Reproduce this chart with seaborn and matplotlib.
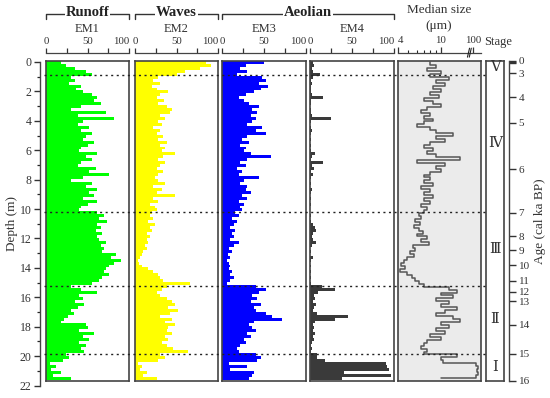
import numpy as np
import pandas as pd
import matplotlib
matplotlib.use("Agg")
import matplotlib.pyplot as plt
import matplotlib.transforms as mtransforms
from matplotlib.lines import Line2D
import seaborn as sns

# sample depths (m)
DEPTH = [0.1, 0.3, 0.5, 0.7, 0.9, 1.1, 1.3, 1.5, 1.7, 1.9,
         2.1, 2.3, 2.5, 2.7, 2.9, 3.1, 3.3, 3.5, 3.7, 3.9,
         4.1, 4.3, 4.5, 4.7, 4.9, 5.1, 5.3, 5.5, 5.7, 5.9,
         6.1, 6.3, 6.5, 6.7, 6.9, 7.1, 7.3, 7.5, 7.7, 7.9,
         8.1, 8.3, 8.5, 8.7, 8.9, 9.1, 9.3, 9.5, 9.7, 9.9,
         10.1, 10.3, 10.5, 10.7, 10.9, 11.1, 11.3, 11.5, 11.7, 11.9,
         12.1, 12.3, 12.5, 12.7, 12.9, 13.1, 13.3, 13.5, 13.7, 13.9,
         14.1, 14.3, 14.5, 14.7, 14.9, 15.1, 15.3, 15.5, 15.7, 15.9,
         16.1, 16.3, 16.5, 16.7, 16.9, 17.1, 17.3, 17.5, 17.7, 17.9,
         18.1, 18.3, 18.5, 18.7, 18.9, 19.1, 19.3, 19.5, 19.7, 19.9,
         20.1, 20.3, 20.5, 20.7, 20.9, 21.1, 21.3, 21.5]

# end-member contributions (%)
EM1 = [18, 24, 35, 48, 55, 30, 35, 28, 42, 36,
       45, 55, 62, 58, 66, 42, 30, 72, 38, 82,
       45, 38, 52, 42, 55, 48, 44, 58, 50, 42,
       40, 62, 48, 55, 42, 38, 60, 52, 76, 45,
       30, 55, 48, 62, 52, 58, 45, 62, 50, 42,
       40, 62, 70, 64, 74, 62, 66, 60, 68, 62,
       64, 72, 66, 70, 68, 84, 78, 90, 82, 76,
       72, 70, 76, 68, 64, 55, 30, 42, 62, 40,
       44, 35, 46, 38, 30, 34, 26, 22, 18, 48,
       50, 40, 58, 45, 52, 40, 48, 42, 46, 24,
       28, 20, 5, 12, 6, 18, 8, 30]

EM2 = [85, 92, 78, 60, 50, 28, 22, 30, 20, 26,
       40, 30, 26, 35, 28, 38, 44, 42, 30, 36,
       28, 32, 22, 30, 26, 34, 28, 38, 30, 36,
       32, 48, 34, 28, 36, 30, 26, 34, 28, 24,
       28, 36, 22, 32, 26, 48, 22, 28, 18, 24,
       26, 20, 18, 22, 16, 24, 18, 20, 14, 18,
       14, 16, 12, 15, 10, 8, 6, 4, 5, 8,
       16, 22, 28, 30, 34, 66, 38, 32, 26, 30,
       38, 44, 48, 40, 52, 42, 30, 44, 36, 48,
       40, 38, 44, 36, 40, 32, 38, 46, 64, 30,
       36, 28, 4, 8, 6, 14, 10, 26]

EM3 = [50, 28, 22, 30, 18, 48, 52, 44, 55, 46,
       38, 28, 20, 26, 32, 44, 36, 42, 34, 40,
       36, 30, 48, 40, 52, 30, 24, 32, 22, 28,
       26, 34, 58, 30, 22, 28, 18, 24, 20, 44,
       26, 22, 30, 28, 34, 24, 30, 20, 26, 22,
       24, 16, 20, 12, 18, 14, 10, 16, 12, 14,
       10, 20, 14, 8, 12, 7, 10, 6, 8, 10,
       8, 12, 10, 14, 10, 6, 40, 52, 44, 36,
       42, 34, 46, 38, 40, 52, 60, 72, 38, 32,
       36, 40, 30, 34, 26, 28, 22, 18, 20, 40,
       46, 42, 8, 30, 10, 38, 36, 32]

EM4 = [3, 5, 2, 4, 12, 3, 1, 2, 1, 1,
       1, 2, 16, 1, 1, 0, 1, 1, 2, 25,
       1, 0, 1, 2, 1, 0, 1, 0, 1, 0,
       1, 6, 2, 1, 15, 2, 5, 1, 4, 1,
       0, 1, 0, 2, 1, 0, 1, 0, 1, 0,
       0, 0, 1, 0, 1, 4, 6, 7, 4, 2,
       3, 7, 2, 0, 1, 0, 4, 1, 0, 1,
       0, 1, 0, 1, 0, 1, 14, 30, 10, 5,
       6, 4, 7, 5, 4, 8, 45, 30, 6, 4,
       5, 3, 6, 4, 5, 2, 1, 2, 1, 8,
       8, 18, 90, 92, 94, 40, 96, 38]

# median grain size (um)
MEDIAN = [8, 9, 7.5, 10, 8, 12, 9, 11, 8.5, 10,
          8, 9.5, 7, 8.5, 10, 7.5, 6.5, 8, 7, 8.5,
          7, 6, 8, 9, 13, 9, 11, 8, 7, 8.5,
          7.5, 9, 15, 6, 11, 9, 10, 8, 7, 8,
          7, 8.5, 6.5, 8, 7, 8.5, 7, 8, 6.5, 7.5,
          7, 6.2, 6.5, 5.8, 6.4, 5.6, 6.2, 6.8, 6, 7.5,
          6.5, 7.8, 5.5, 5.8, 5.2, 5.6, 4.8, 4.5, 4.3, 4.6,
          4.2, 4.8, 5.4, 5.8, 6.2, 7, 12, 14, 10, 13,
          9, 12, 10, 14, 11, 9, 13, 15, 10, 12,
          9, 11, 8, 10, 7.5, 7, 6.5, 7.5, 7, 14,
          10, 10.5, 21, 22, 21.5, 22, 21, 10]

STAGE_BOUNDS = [0.93, 10.27, 15.26, 19.84]
STAGE_NAMES = ['Ⅴ', 'Ⅳ', 'Ⅲ', 'Ⅱ', 'Ⅰ']
CORE_BOTTOM = 21.7

AGE_DEPTHS = [0, 0.07, 0.14, 0.82, 2.45, 4.2, 7.35, 10.3, 11.9, 12.85,
              13.85, 14.9, 15.65, 16.3, 17.9, 19.85, 21.7]
AGE_LABELS = ['0', '', '', '3', '4', '5', '6', '7', '8', '9',
              '10', '11', '12', '13', '14', '15', '16']

df = pd.DataFrame({'depth': DEPTH, 'EM1': EM1, 'EM2': EM2,
                   'EM3': EM3, 'EM4': EM4, 'median': MEDIAN})

sns.set_style("ticks")
plt.rcParams['font.family'] = ['Liberation Serif', 'DejaVu Serif']
plt.rcParams['axes.edgecolor'] = '#444444'

W, H = 550, 398
fig = plt.figure(figsize=(5.5, 3.98), dpi=100)
TOP, BOT = 61, 381
TXT = '#333333'


def px_axes(x0, x1, y0=TOP, y1=BOT):
    return fig.add_axes([x0 / W, 1 - y1 / H, (x1 - x0) / W, (y1 - y0) / H])


def frame(ax):
    ax.set(xlabel='', ylabel='')
    ax.set_yticks([])
    ax.tick_params(axis='x', bottom=False, labelbottom=False)
    for s in ax.spines.values():
        s.set_visible(True)
        s.set_linewidth(1.2)
        s.set_color('#444444')


def align_edge_labels(sec, first=None, last=None):
    ticks = sec.xaxis.get_major_ticks()
    for tk in ticks:
        tk.label2.set_horizontalalignment('center')
    if first:
        ticks[0].label2.set_horizontalalignment(first)
    if last:
        ticks[-1].label2.set_horizontalalignment(last)


# end-member panels
panels = [('EM1', 46, 129, '#00ff00'), ('EM2', 135, 218, '#ffff00'),
          ('EM3', 222, 306, '#0000ff'), ('EM4', 310, 394, '#3a3a3a')]
axes = []
secs = []
for name, x0, x1, col in panels:
    ax = px_axes(x0, x1)
    sns.barplot(data=df, x=name, y='depth', orient='y', native_scale=True,
                color=col, saturation=1, width=1, linewidth=0,
                errorbar=None, ax=ax)
    ax.set_xlim(0, 100)
    ax.set_ylim(CORE_BOTTOM, 0)
    frame(ax)
    ax.set_xticks([])
    sec = ax.secondary_xaxis(1.025)
    sec.set_xticks([0, 25, 50, 75, 100], ['0', '', '50', '', '100'])
    sec.tick_params(direction='out', length=3.5, width=0.9, pad=1.5,
                    labelsize=7.8, colors=TXT)
    sec.spines['top'].set_linewidth(0.9)
    fig.text((x0 + x1) / 2 / W, 1 - 29 / H, name, ha='center', va='center',
             fontsize=9, color=TXT)
    axes.append(ax)
    secs.append(sec)

# median grain size panel
axm = px_axes(398, 481)
axm.set_facecolor('#ebebeb')
sns.lineplot(data=df, x='median', y='depth', orient='y', sort=True,
             estimator=None, drawstyle='steps-pre', color='#555555',
             lw=1.1, ax=axm)
axm.set_xscale('log')
axm.set_xlim(4, 23.5)
axm.set_ylim(CORE_BOTTOM, 0)
frame(axm)
axm.set_xticks([], minor=True)
axm.set_xticks([])
secm = axm.secondary_xaxis(1.025)
secm.set_xticks([4, 10, 20], ['4', '10', '100'])
secm.set_xticks([5, 6, 7, 8, 9], minor=True)
secm.xaxis.set_minor_formatter(plt.NullFormatter())
secm.tick_params(which='major', direction='out', length=4, width=0.9, pad=1.5,
                 labelsize=7.8, colors=TXT)
secm.tick_params(which='minor', direction='out', length=2.5, width=0.8)
secm.spines['top'].set_linewidth(0.9)
brk = mtransforms.blended_transform_factory(axm.transData, axm.transAxes)
for xs in ([17.6, 18.4], [18.3, 19.1]):
    axm.plot(xs, [1.012, 1.04], transform=brk, color='#222222', lw=0.8,
             clip_on=False)

# stage column
axs = px_axes(486, 504)
axs.set_ylim(CORE_BOTTOM, 0)
axs.set_xlim(0, 1)
frame(axs)
axs.set_xticks([])
edges = [0] + STAGE_BOUNDS + [CORE_BOTTOM]
for lab, a, b in zip(STAGE_NAMES, edges[:-1], edges[1:]):
    axs.text(0.5, (a + b) / 2, lab, ha='center', va='center', fontsize=10.5,
             color=TXT, family=['Liberation Serif', 'DejaVu Serif'])

# age axis
axa = fig.add_axes([508 / W, 1 - BOT / H, 1 / W, (BOT - TOP) / H])
axa.patch.set_visible(False)
for s in ['left', 'top', 'bottom']:
    axa.spines[s].set_visible(False)
axa.spines['right'].set_linewidth(1.0)
axa.set_xticks([])
axa.yaxis.tick_right()
axa.set_ylim(CORE_BOTTOM, 0)
axa.set_yticks(AGE_DEPTHS, AGE_LABELS)
axa.tick_params(axis='y', direction='out', length=5, width=1.0, pad=2,
                labelsize=8, colors=TXT)
axa.yaxis.set_label_position('right')
axa.set_ylabel('Age (cal ka BP)', fontsize=9.5, rotation=90, labelpad=3,
               color=TXT)

# depth axis
axd = fig.add_axes([40 / W, 1 - 385.5 / H, 1 / W, 323.5 / H])
axd.patch.set_visible(False)
for s in ['right', 'top', 'bottom']:
    axd.spines[s].set_visible(False)
axd.spines['left'].set_linewidth(1.0)
axd.set_xticks([])
axd.set_ylim(22, 0)
axd.set_yticks(range(0, 23, 2))
axd.set_yticks(range(1, 22, 2), minor=True)
axd.tick_params(axis='y', which='major', direction='out', length=4, width=1.0,
                pad=2, labelsize=8.5, colors=TXT)
axd.tick_params(axis='y', which='minor', direction='out', length=2.5, width=0.9)
axd.set_ylabel('Depth (m)', fontsize=9.5, labelpad=1, color=TXT)

# stage boundaries across the panels
trans = mtransforms.blended_transform_factory(fig.transFigure, axes[0].transData)
for d in STAGE_BOUNDS:
    fig.add_artist(Line2D([44 / W, 486 / W], [d, d], transform=trans,
                          color='#222222', lw=1.0, ls=(0, (1.5, 2.5)), zorder=10))


# group headers with brackets
def bracket(x0, x1, label):
    y = 1 - 14 / H
    fig.add_artist(Line2D([x0 / W, x0 / W, x1 / W, x1 / W],
                          [1 - 19 / H, y, y, 1 - 19 / H],
                          transform=fig.transFigure, color='#333333', lw=1.0))
    fig.text((x0 + x1) / 2 / W, 1 - 13 / H, label, ha='center', va='center',
             fontsize=10.5, fontweight='bold', color='#222222',
             bbox=dict(fc='white', ec='none', pad=0.5), zorder=5)


bracket(46, 129, 'Runoff')
bracket(135, 218, 'Waves')
bracket(222, 394, 'Aeolian')

fig.text(439 / W, 1 - 10 / H, 'Median size', ha='center', va='center',
         fontsize=9.5, color=TXT)
fig.text(439 / W, 1 - 26 / H, '(μm)', ha='center', va='center',
         fontsize=9.5, color=TXT)
fig.text(498 / W, 1 - 42 / H, 'Stage', ha='center', va='center',
         fontsize=9, color=TXT)

fig.canvas.draw()
for sec in secs:
    align_edge_labels(sec, last='right')
align_edge_labels(secm, first='left')

fig.savefig('out.png', dpi=100)
